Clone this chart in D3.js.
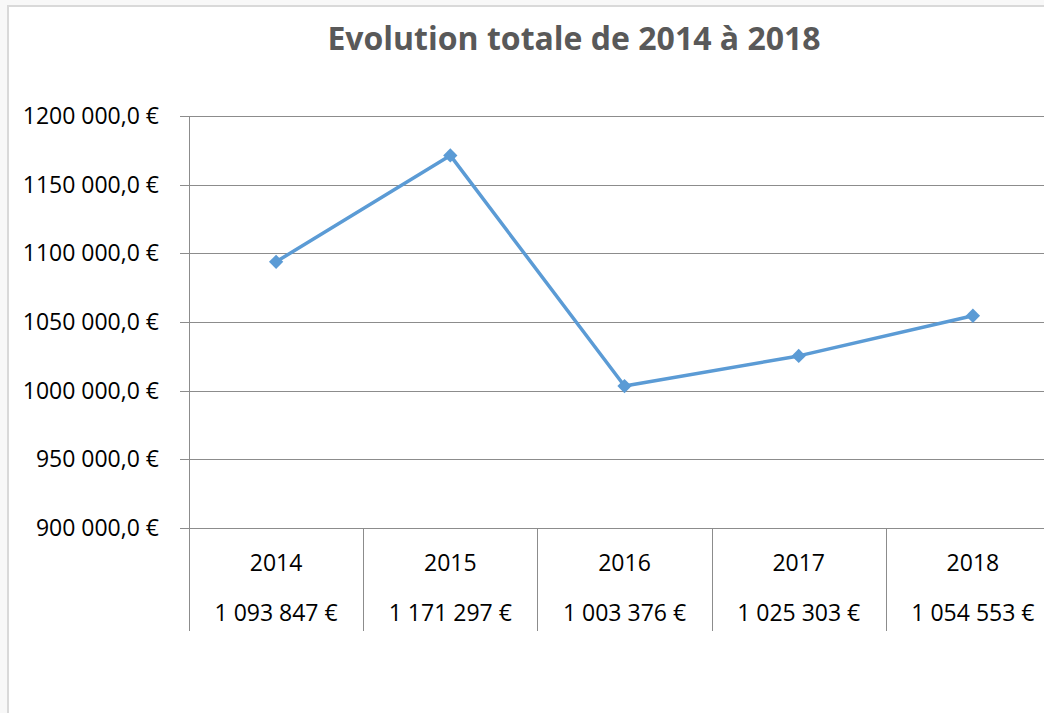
<!DOCTYPE html>
<html>
<head>
<meta charset="utf-8">
<script src="https://cdn.jsdelivr.net/npm/d3@7"></script>
<style>
  body { margin: 0; background: #f8f8f8; }
  svg { display: block; }
</style>
</head>
<body>
<script>
var svgWidth = 1044;
var svgHeight = 713;

// data
var years = ["2014", "2015", "2016", "2017", "2018"];
var totals = [1093847, 1171297, 1003376, 1025303, 1054553];
var yTicks = [900000, 950000, 1000000, 1050000, 1100000, 1150000, 1200000];

var margin = { top: 116, left: 189, bottom: 528, right: 1060 };
var fontFamily = "'Open Sans', sans-serif";

var svg = d3.select("body")
  .append("svg")
  .attr("width", svgWidth)
  .attr("height", svgHeight);

// chart frame
svg.append("rect")
  .attr("x", 8)
  .attr("y", 6)
  .attr("width", svgWidth + 20)
  .attr("height", svgHeight + 20)
  .attr("fill", "#ffffff")
  .attr("stroke", "#d9d9d9")
  .attr("stroke-width", 2);

svg.append("text")
  .attr("x", 574)
  .attr("y", 50)
  .attr("text-anchor", "middle")
  .style("font-family", fontFamily)
  .style("font-size", "32px")
  .style("font-weight", "bold")
  .attr("fill", "#595959")
  .text("Evolution totale de 2014 à 2018");

var xScale = d3.scaleBand().domain(years).range([margin.left, margin.right]);
var yScale = d3.scaleLinear().domain([900000, 1200000]).range([margin.bottom, margin.top]);

var frFormat = d3.formatLocale({ decimal: ",", thousands: " ", grouping: [3], currency: ["", " €"] });
var valueFormat = frFormat.format("$,.0f");
function yLabel(v) {
  return Math.floor(v / 1000) + " " + String(v % 1000).padStart(3, "0") + ",0 €";
}

// gridlines
svg.append("g")
  .selectAll("line")
  .data(yTicks)
  .enter()
  .append("line")
  .attr("x1", margin.left - 9)
  .attr("x2", margin.right)
  .attr("y1", d => Math.round(yScale(d)) + 0.5)
  .attr("y2", d => Math.round(yScale(d)) + 0.5)
  .attr("stroke", "#8c8c8c")
  .attr("stroke-width", 1);

// y labels
svg.append("g")
  .selectAll("text")
  .data(yTicks)
  .enter()
  .append("text")
  .attr("x", 159)
  .attr("y", d => yScale(d) + 8)
  .attr("text-anchor", "end")
  .style("font-family", fontFamily)
  .style("font-size", "23px")
  .attr("fill", "#000")
  .text(yLabel);

// left axis + table dividers
var dividers = years.map(y => xScale(y));
svg.append("line")
  .attr("x1", margin.left + 0.5).attr("x2", margin.left + 0.5)
  .attr("y1", margin.top).attr("y2", 631)
  .attr("stroke", "#8c8c8c");
svg.append("g")
  .selectAll("line")
  .data(dividers.slice(1))
  .enter()
  .append("line")
  .attr("x1", d => Math.round(d) + 0.5)
  .attr("x2", d => Math.round(d) + 0.5)
  .attr("y1", margin.bottom)
  .attr("y2", 631)
  .attr("stroke", "#8c8c8c");

// table text
var cx = d => xScale(d) + xScale.bandwidth() / 2;
svg.append("g")
  .selectAll("text")
  .data(years)
  .enter()
  .append("text")
  .attr("x", cx)
  .attr("y", 571)
  .attr("text-anchor", "middle")
  .style("font-family", fontFamily)
  .style("font-size", "23px")
  .text(d => d);

svg.append("g")
  .selectAll("text")
  .data(years)
  .enter()
  .append("text")
  .attr("x", cx)
  .attr("y", 621)
  .attr("text-anchor", "middle")
  .style("font-family", fontFamily)
  .style("font-size", "23px")
  .text((d, i) => valueFormat(totals[i]));

// line
var line = d3.line()
  .x((d, i) => cx(years[i]))
  .y(d => yScale(d));

svg.append("path")
  .datum(totals)
  .attr("d", line)
  .attr("fill", "none")
  .attr("stroke", "#5b9bd5")
  .attr("stroke-width", 3.5)
  .attr("stroke-linejoin", "round");

svg.append("g")
  .selectAll("path")
  .data(totals)
  .enter()
  .append("path")
  .attr("d", d3.symbol().type(d3.symbolDiamond2).size(130))
  .attr("transform", (d, i) => `translate(${cx(years[i])}, ${yScale(d)})`)
  .attr("fill", "#5b9bd5");
</script>
</body>
</html>
